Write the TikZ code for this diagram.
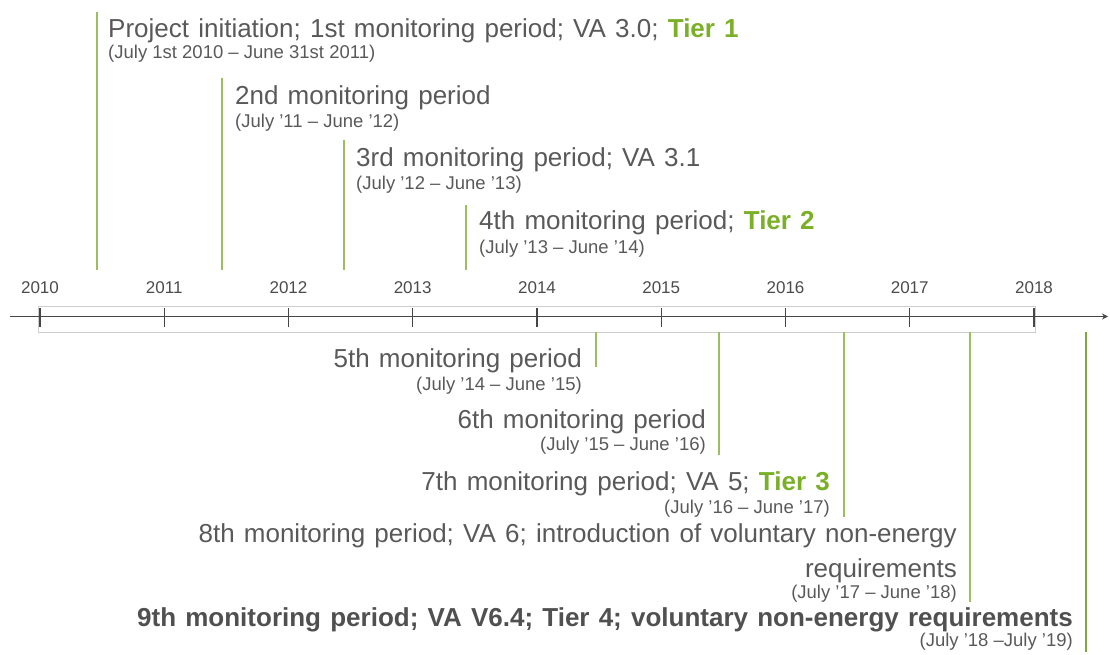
\documentclass[tikz,border=0pt]{standalone}
\usepackage{fontspec}
\setmainfont{Liberation Sans}
\usetikzlibrary{arrows.meta}
\definecolor{txt}{RGB}{89,89,89}
\definecolor{txtb}{RGB}{80,80,80}
\definecolor{yrc}{RGB}{75,75,75}
\definecolor{tier}{RGB}{122,176,40}
\definecolor{gline}{RGB}{155,190,95}
\definecolor{gline2}{RGB}{125,170,60}
\definecolor{axis}{RGB}{70,70,70}
\definecolor{boxc}{RGB}{205,205,205}
\newcommand{\widesp}{\spaceskip=9.2pt plus 0pt minus 0pt\relax}
\tikzset{
  maintxt/.style={inner sep=0pt, text=txt, font=\fontsize{26}{30}\selectfont, execute at begin node=\widesp},
  boldtxt/.style={inner sep=0pt, text=txtb, font=\fontsize{26}{30}\selectfont\bfseries, execute at begin node=\widesp},
  subtxt/.style={inner sep=0pt, text=txt, font=\fontsize{18.5}{22}\selectfont},
  yeartxt/.style={inner sep=0pt, text=yrc, font=\fontsize{17}{20}\selectfont, anchor=base},
  marker/.style={draw=gline, line width=2pt},
  tickmark/.style={draw=axis, line width=1.2pt},
}
\newcommand{\tier}[1]{\textcolor{tier}{\bfseries #1}}
\begin{document}
\begin{tikzpicture}[x=1pt,y=-1pt]
\useasboundingbox (0,0) rectangle (1110,654);
% axis
\coordinate (axL) at (10,316.5);
\coordinate (axR) at (1108,316.5);
\draw[boxc, line width=1pt] (38,306) rectangle (1035,332);
\draw[axis, line width=1.5pt, -{Stealth[length=6pt,width=6pt]}] (axL) -- (axR);
% ticks and years
\foreach \yr/\xx in {2010/40,2011/164.2,2012/288.5,2013/412.7,2014/537,2015/661.2,2016/785.5,2017/909.7,2018/1034}{
  \coordinate (t\yr a) at (\xx,308);
  \coordinate (t\yr b) at (\xx,327);
  \draw[tickmark] (t\yr a) -- (t\yr b);
  \node[yeartxt] (y\yr) at (\xx,293) {\yr};
}
% upper markers
\coordinate (m1a) at (97,12);   \coordinate (m1b) at (97,270);
\coordinate (m2a) at (222,78);  \coordinate (m2b) at (222,270);
\coordinate (m3a) at (344,140); \coordinate (m3b) at (344,270);
\coordinate (m4a) at (466,205); \coordinate (m4b) at (466,270);
\draw[marker] (m1a) -- (m1b);
\draw[marker] (m2a) -- (m2b);
\draw[marker] (m3a) -- (m3b);
\draw[marker] (m4a) -- (m4b);
% lower markers
\coordinate (m5a) at (596,332);  \coordinate (m5b) at (596,367);
\coordinate (m6a) at (719,332);  \coordinate (m6b) at (719,455);
\coordinate (m7a) at (844,332);  \coordinate (m7b) at (844,517);
\coordinate (m8a) at (970,332);  \coordinate (m8b) at (970,602);
\coordinate (m9a) at (1086,332); \coordinate (m9b) at (1086,652);
\draw[marker] (m5a) -- (m5b);
\draw[marker] (m6a) -- (m6b);
\draw[marker] (m7a) -- (m7b);
\draw[marker] (m8a) -- (m8b);
\draw[marker, draw=gline2, line width=2.6pt] (m9a) -- (m9b);
% upper labels
\node[maintxt, anchor=base west] (l1) at (108,37) {Project initiation; 1st monitoring period; VA 3.0; \tier{Tier 1}};
\node[subtxt, anchor=base west] (s1) at (108,58) {(July 1st 2010 – June 31st 2011)};
\node[maintxt, anchor=base west] (l2) at (235,104) {2nd monitoring period};
\node[subtxt, anchor=base west] (s2) at (235,127) {(July ’11 – June ’12)};
\node[maintxt, anchor=base west] (l3) at (356,166) {3rd monitoring period; VA 3.1};
\node[subtxt, anchor=base west] (s3) at (356,189) {(July ’12 – June ’13)};
\node[maintxt, anchor=base west] (l4) at (479,229) {4th monitoring period; \tier{Tier 2}};
\node[subtxt, anchor=base west] (s4) at (479,253) {(July ’13 – June ’14)};
% lower labels
\node[maintxt, anchor=base east] (l5) at (582,367) {5th monitoring period};
\node[subtxt, anchor=base east] (s5) at (582,390) {(July ’14 – June ’15)};
\node[maintxt, anchor=base east] (l6) at (706,428) {6th monitoring period};
\node[subtxt, anchor=base east] (s6) at (706,450) {(July ’15 – June ’16)};
\node[maintxt, anchor=base east] (l7) at (830,490) {7th monitoring period; VA 5; \tier{Tier 3}};
\node[subtxt, anchor=base east] (s7) at (830,513) {(July ’16 – June ’17)};
\node[maintxt, anchor=base east] (l8) at (957,542) {8th monitoring period; VA 6; introduction of voluntary non-energy};
\node[maintxt, anchor=base east] (l8b) at (957,577) {requirements};
\node[subtxt, anchor=base east] (s8) at (957,598) {(July ’17 – June ’18)};
\node[boldtxt, anchor=base east] (l9) at (1073,626) {9th monitoring period; VA V6.4; Tier 4; voluntary non-energy requirements};
\node[subtxt, anchor=base east] (s9) at (1073,646) {(July ’18 –July ’19)};
\end{tikzpicture}
\end{document}
